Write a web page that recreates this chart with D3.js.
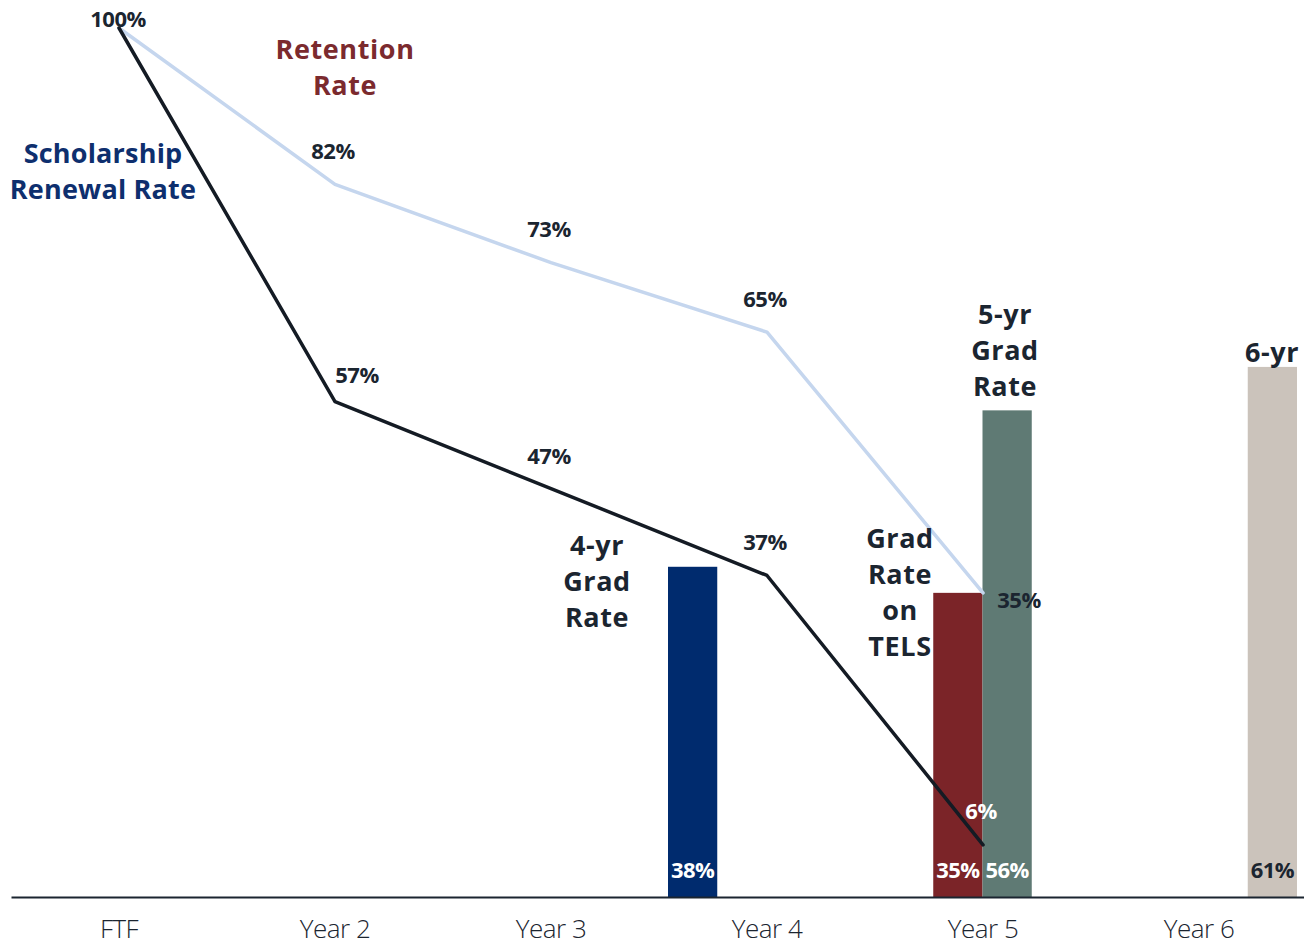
<!DOCTYPE html>
<html><head><meta charset="utf-8">
<script src="https://cdn.jsdelivr.net/npm/d3@7/dist/d3.min.js"></script>
<style>
html,body{margin:0;padding:0;background:#fff;}
svg{display:block;font-family:"Open Sans",sans-serif;}
</style></head>
<body>
<svg id="chart" width="1304" height="949"></svg>
<script>
// ---- data ----
const categories = ["FTF","Year 2","Year 3","Year 4","Year 5","Year 6"];
const retentionCats = ["FTF","Year 2","Year 3","Year 4","Year 5"];
const retentionValues = [100, 82, 73, 65, 35];
const renewalCats = ["FTF","Year 2","Year 3","Year 4","Year 5"];
const renewalValues = [100, 57, 47, 37, 6];
const barSeries = ["4-yr Grad Rate","Grad Rate on TELS","5-yr Grad Rate","6-yr Grad Rate"];
const barCats = ["Year 4","Year 5","Year 5","Year 6"];
const barValues = [38, 35, 56, 61];

// ---- styles ----
const barColors = {"4-yr Grad Rate":"#002b6e","Grad Rate on TELS":"#7b2428","5-yr Grad Rate":"#5f7a74","6-yr Grad Rate":"#cbc3bb"};
const barLabelColors = {"4-yr Grad Rate":"#fff","Grad Rate on TELS":"#fff","5-yr Grad Rate":"#fff","6-yr Grad Rate":"#1b2530"};
const dark = "#1b2530";

const svg = d3.select("#chart");
const x = d3.scaleBand().domain(categories).range([11, 1307]).padding(0);
const xc = c => x(c) + x.bandwidth()/2;
const x1 = d3.scaleBand().domain(barSeries).range([-99, 98]).padding(0);
const y = d3.scaleLinear().domain([0,100]).range([897, 28]);

// bars
const bars = barSeries.map((s,i)=>({s, c:barCats[i], v:barValues[i]}));
svg.append("g").selectAll("rect").data(bars).join("rect")
  .attr("x", d => xc(d.c) + x1(d.s))
  .attr("width", x1.bandwidth())
  .attr("y", d => y(d.v))
  .attr("height", d => y(0) - y(d.v))
  .attr("fill", d => barColors[d.s]);

svg.append("g").selectAll("text").data(bars).join("text")
  .attr("x", d => xc(d.c) + x1(d.s) + x1.bandwidth()/2)
  .attr("y", 878)
  .attr("text-anchor","middle")
  .attr("font-size", 22).attr("font-weight", 700).attr("letter-spacing", "-0.5px")
  .attr("fill", d => barLabelColors[d.s])
  .text(d => d.v + "%");

// axis
const axis = svg.append("g").attr("transform", `translate(0,${y(0)})`)
  .call(d3.axisBottom(x).tickSize(0).tickPadding(23));
axis.select(".domain").attr("stroke", dark).attr("stroke-width", 2);
axis.selectAll("text").attr("font-size", 26).attr("font-weight", 300)
  .attr("fill", dark).attr("letter-spacing","-0.5px").attr("font-family", "'Open Sans',sans-serif");

// lines
const line = d3.line().x(d => xc(d.c)).y(d => y(d.v));
const ret = retentionCats.map((c,i)=>({c, v:retentionValues[i]}));
const ren = renewalCats.map((c,i)=>({c, v:renewalValues[i]}));
svg.append("path").datum(ret).attr("d", line).attr("fill","none")
  .attr("stroke","#c5d6ee").attr("stroke-width",3.5).attr("stroke-linejoin","round").attr("stroke-linecap","round");
svg.append("path").datum(ren).attr("d", line).attr("fill","none")
  .attr("stroke","#141b24").attr("stroke-width",3.5).attr("stroke-linejoin","round").attr("stroke-linecap","round");

// line value labels
const retOff = [[-1,-1],[-2,-25],[-2,-26],[-2,-25],[36,15]];
const renOff = [[-1,-1],[22,-19],[-2,-25],[-2,-25],[-2,-26]];
function valLabels(data, offs, colors){
  svg.append("g").selectAll("text").data(data).join("text")
    .attr("x", (d,i) => xc(d.c) + offs[i][0])
    .attr("y", (d,i) => y(d.v) + offs[i][1])
    .attr("text-anchor","middle")
    .attr("font-size", 22).attr("font-weight", 700).attr("letter-spacing","-0.5px")
    .attr("fill", (d,i) => colors[i])
    .text(d => d.v + "%");
}
valLabels(ret.slice(1), retOff.slice(1), [dark,dark,dark,dark]);
valLabels(ren.slice(0,1), renOff.slice(0,1), [dark]);
valLabels(ren.slice(1), renOff.slice(1), [dark,dark,dark,"#fff"]);

// annotations
function note(lines, cx, cy0, color, size, ls){
  const t = svg.append("text").attr("text-anchor","middle")
    .attr("font-size", size).attr("font-weight", 700).attr("fill", color).attr("letter-spacing", ls || "0.6px");
  lines.forEach((l,i)=> t.append("tspan").attr("x", cx).attr("y", cy0 + i*36).text(l));
}
note(["Retention","Rate"], 345, 59, "#7b2a2e", 27);
note(["Scholarship","Renewal Rate"], 103, 163, "#0e2f6e", 27, "0.2px");
note(["4-yr","Grad","Rate"], 597, 555, dark, 27);
note(["Grad","Rate","on","TELS"], 900, 548, dark, 27);
note(["5-yr","Grad","Rate"], 1005, 324, dark, 27);
note(["6-yr"], 1272, 362, dark, 27);
</script>
</body></html>
